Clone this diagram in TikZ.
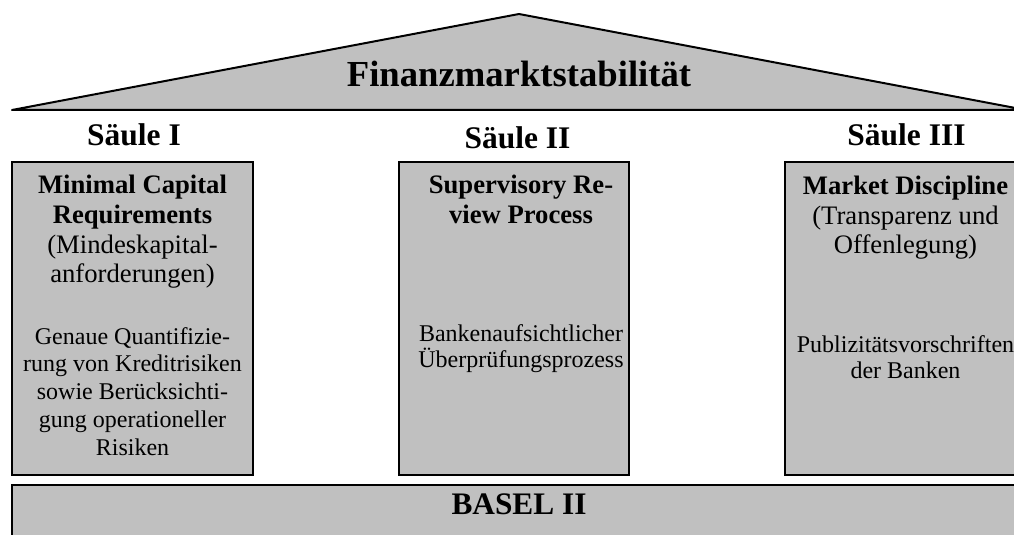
\documentclass[tikz,border=0pt]{standalone}
\usepackage{fontspec}
\setmainfont{Liberation Serif}
\definecolor{pillargray}{HTML}{C0C0C0}
\begin{document}
\begin{tikzpicture}[x=0.75pt,y=-0.75pt,
  panel/.style={draw=black, fill=pillargray, line width=1.5pt, inner sep=0pt, outer sep=0pt},
  roofline/.style={draw=black, fill=pillargray, line width=1.5pt, line join=round},
  titletext/.style={anchor=base, inner sep=0pt, font=\bfseries\fontsize{27.5}{32}\selectfont},
  pillarlabel/.style={anchor=base, inner sep=0pt, font=\bfseries\fontsize{23.6}{27}\selectfont},
  headline/.style={anchor=base, inner sep=0pt, font=\bfseries\fontsize{20}{23}\selectfont},
  plainline/.style={anchor=base, inner sep=0pt, font=\fontsize{20}{23}\selectfont},
  bodyline/.style={anchor=base, inner sep=0pt, font=\fontsize{18}{21}\selectfont},
]
\useasboundingbox (0,0) rectangle (1014,535);
\clip (0,0) rectangle (1014,535);

% roof
\path[roofline] (12,110) -- (519,14) -- (1026,110) -- cycle;
\node[titletext] (title) at (519,86.7) {Finanzmarktstabilität};

% pillar captions
\node[pillarlabel] (saeule1) at (134,146) {Säule I};
\node[pillarlabel] (saeule2) at (517.5,148) {Säule II};
\node[pillarlabel] (saeule3) at (906.5,146) {Säule III};

% pillars
\node[panel, minimum width=180.75pt, minimum height=234.75pt] (pillar1) at (132.5,318.5) {};
\node[panel, minimum width=172.5pt, minimum height=234.75pt] (pillar2) at (514,318.5) {};
\node[panel, minimum width=180.75pt, minimum height=234.75pt] (pillar3) at (905.5,318.5) {};

% foundation
\node[panel, minimum width=760.5pt, minimum height=63.75pt] (base) at (519,527.5) {};
\node[titletext, font=\bfseries\fontsize{23.5}{27}\selectfont] (basel) at (519,514) {BASEL II};

% pillar I text
\foreach \n/\y/\t in {1/193/Minimal Capital, 2/223/Requirements}
  \node[headline] (p1h\n) at (132.5,\y) {\t};
\foreach \n/\y/\t in {1/253/(Mindeskapital-, 2/282/anforderungen)}
  \node[plainline] (p1p\n) at (132.5,\y) {\t};
\foreach \n/\y/\t in {1/344/Genaue Quantifizie-, 2/371/rung von Kreditrisiken,
    3/399/sowie Berücksichti-, 4/427/gung operationeller, 5/455/Risiken}
  \node[bodyline] (p1b\n) at (132.5,\y) {\t};

% pillar II text
\foreach \n/\y/\t in {1/193/Supervisory Re-, 2/223/view Process}
  \node[headline] (p2h\n) at (521,\y) {\t};
\foreach \n/\y/\t in {1/341/Bankenaufsichtlicher, 2/367/Überprüfungsprozess}
  \node[bodyline] (p2b\n) at (521,\y) {\t};

% pillar III text
\node[headline] (p3h1) at (905.5,194) {Market Discipline};
\foreach \n/\y/\t in {1/224/(Transparenz und, 2/253/Offenlegung)}
  \node[plainline] (p3p\n) at (905.5,\y) {\t};
\foreach \n/\y/\t in {1/352/Publizitätsvorschriften, 2/378/der Banken}
  \node[bodyline] (p3b\n) at (905.5,\y) {\t};
\end{tikzpicture}
\end{document}
